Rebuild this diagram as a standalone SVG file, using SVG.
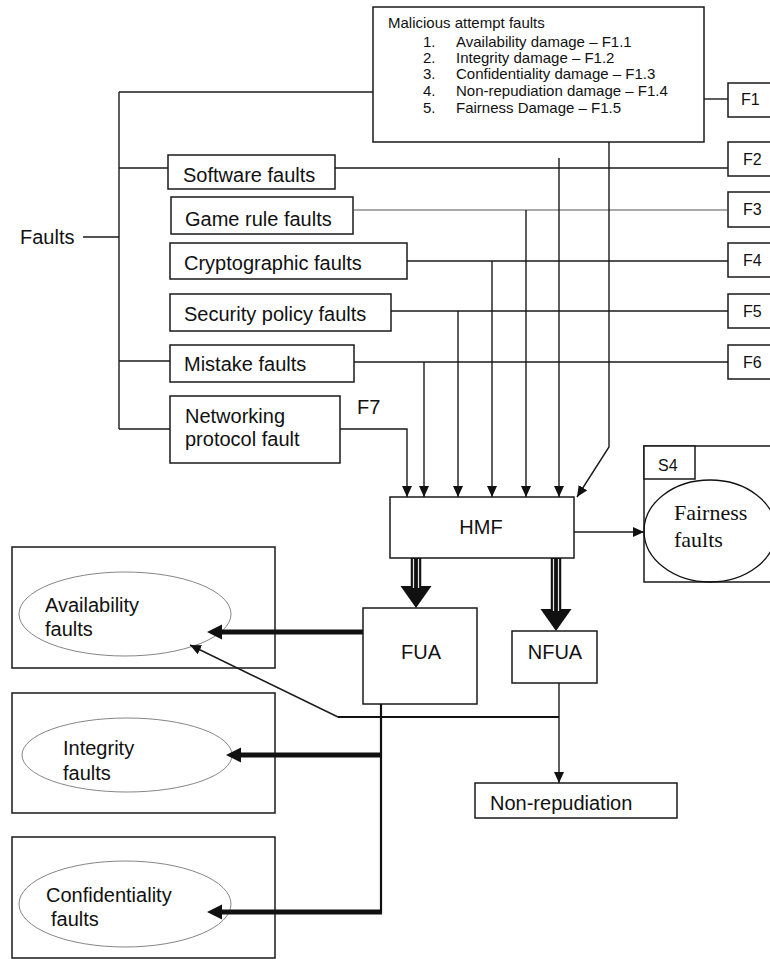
<svg xmlns="http://www.w3.org/2000/svg" width="770" height="959" viewBox="0 0 770 959">
<defs>
<style>
.box{fill:#fff;stroke:#1a1a1a;stroke-width:1.5}
.t{font-family:"Liberation Sans",Arial,sans-serif;font-size:20px;fill:#111}
.s{font-family:"Liberation Sans",Arial,sans-serif;font-size:15px;fill:#111}
.f{font-family:"Liberation Sans",Arial,sans-serif;font-size:16px;fill:#111}
.serif{font-family:"Liberation Serif","Times New Roman",serif;font-size:22px;fill:#111}
.ln{fill:none;stroke:#1a1a1a;stroke-width:1.4}
.thin{fill:none;stroke:#555;stroke-width:1}
.mid{fill:none;stroke:#111;stroke-width:2.2}
.thick{fill:none;stroke:#111;stroke-width:5}
.tri{fill:none;stroke:#111;stroke-width:10.5}
.gap{fill:none;stroke:#e8e8e8;stroke-width:1.2}
.oval{fill:none;stroke:#666;stroke-width:0.8}
.oval2{fill:none;stroke:#111;stroke-width:1.3}
.arrow{marker-end:url(#arr)}
</style>
<marker id="arr" markerUnits="userSpaceOnUse" markerWidth="11" markerHeight="10" refX="11" refY="5" orient="auto"><path d="M0,0 L11,5 L0,10 z" fill="#111"/></marker>
<marker id="thk" markerUnits="userSpaceOnUse" markerWidth="16" markerHeight="16" refX="0" refY="7.5" orient="auto" overflow="visible"><path d="M0,0 L15,7.5 L0,15 z" fill="#111"/></marker>
<marker id="big" markerUnits="userSpaceOnUse" markerWidth="24" markerHeight="32" refX="0" refY="15.5" orient="auto" overflow="visible"><path d="M0,0 L22,15.5 L0,31 z" fill="#111"/></marker>
</defs>
<rect width="770" height="959" fill="#fff"/>

<g id="faults-label"><text class="t" x="20" y="244">Faults</text></g>

<g id="malicious">
  <rect class="box" x="373" y="7" width="331" height="135"/>
  <text class="s" x="388" y="28">Malicious attempt faults</text>
  <text class="s" x="423" y="47">1.</text><text class="s" x="456" y="47">Availability damage – F1.1</text>
  <text class="s" x="423" y="63">2.</text><text class="s" x="456" y="63">Integrity damage – F1.2</text>
  <text class="s" x="423" y="79">3.</text><text class="s" x="456" y="79">Confidentiality damage – F1.3</text>
  <text class="s" x="423" y="96">4.</text><text class="s" x="456" y="96">Non-repudiation damage – F1.4</text>
  <text class="s" x="423" y="113">5.</text><text class="s" x="456" y="113">Fairness Damage – F1.5</text>
</g>

<g id="F1"><rect class="box" x="728" y="83" width="60" height="34"/><text class="f" x="741" y="105">F1</text></g>
<g id="F2"><rect class="box" x="728" y="142" width="60" height="34"/><text class="f" x="743" y="165">F2</text></g>
<g id="F3"><rect class="box" x="728" y="192" width="60" height="35"/><text class="f" x="743" y="215">F3</text></g>
<g id="F4"><rect class="box" x="728" y="243" width="60" height="34"/><text class="f" x="743" y="266">F4</text></g>
<g id="F5"><rect class="box" x="728" y="294" width="60" height="34"/><text class="f" x="743" y="317">F5</text></g>
<g id="F6"><rect class="box" x="728" y="345" width="60" height="34"/><text class="f" x="743" y="368">F6</text></g>

<g id="software"><rect class="box" x="168" y="155" width="167" height="34"/><text class="t" x="183" y="182">Software faults</text></g>
<g id="gamerule"><rect class="box" x="171" y="197" width="182" height="37"/><text class="t" x="185" y="226">Game rule faults</text></g>
<g id="crypto"><rect class="box" x="170" y="243" width="237" height="36"/><text class="t" x="184" y="270">Cryptographic faults</text></g>
<g id="security"><rect class="box" x="170" y="294" width="221" height="37"/><text class="t" x="184" y="321">Security policy faults</text></g>
<g id="mistake"><rect class="box" x="170" y="345" width="184" height="37"/><text class="t" x="184" y="371">Mistake faults</text></g>
<g id="networking">
  <rect class="box" x="170" y="396" width="170" height="67"/>
  <text class="t" x="185" y="423">Networking</text>
  <text class="t" x="185" y="446">protocol fault</text>
</g>
<g id="F7"><text class="t" x="357" y="414">F7</text></g>

<g id="HMF"><rect class="box" x="390" y="497" width="184" height="61"/><text class="t" x="481" y="534" text-anchor="middle">HMF</text></g>

<g id="S4">
  <rect class="box" x="644" y="446" width="146" height="136"/>
  <rect class="box" x="644" y="446" width="51" height="33"/>
  <text class="f" x="658" y="471">S4</text>
  <ellipse class="oval2" cx="710" cy="531" rx="66" ry="51"/>
  <text class="serif" x="674" y="520">Fairness</text>
  <text class="serif" x="674" y="547">faults</text>
</g>

<g id="FUA"><rect class="box" x="363" y="608" width="114" height="96"/><text class="t" x="421" y="659" text-anchor="middle">FUA</text></g>
<g id="NFUA"><rect class="box" x="512" y="631" width="85" height="52"/><text class="t" x="555" y="659" text-anchor="middle">NFUA</text></g>
<g id="nonrep"><rect class="box" x="475" y="783" width="202" height="35"/><text class="t" x="490" y="810">Non-repudiation</text></g>

<g id="availability">
  <rect class="box" x="12" y="547" width="263" height="121"/>
  <ellipse class="oval" cx="125" cy="614" rx="106" ry="42"/>
  <text class="t" x="45" y="612">Availability</text>
  <text class="t" x="45" y="636">faults</text>
</g>
<g id="integrity">
  <rect class="box" x="12" y="693" width="263" height="120"/>
  <ellipse class="oval" cx="127" cy="755" rx="105" ry="37"/>
  <text class="t" x="63" y="755">Integrity</text>
  <text class="t" x="63" y="780">faults</text>
</g>
<g id="confidentiality">
  <rect class="box" x="12" y="837" width="263" height="121"/>
  <ellipse class="oval" cx="125" cy="904" rx="106" ry="43"/>
  <text class="t" x="46" y="902">Confidentiality</text>
  <text class="t" x="51" y="926">faults</text>
</g>

<g id="connectors">
  <path class="ln" d="M119,92 V429"/>
  <path class="ln" d="M119,92 H373"/>
  <path class="ln" d="M83,237 H119"/>
  <path class="ln" d="M119,168 H168"/>
  <path class="ln" d="M119,361 H170"/>
  <path class="ln" d="M119,429 H170"/>
  <path class="ln" d="M704,99 H728"/>
  <path class="ln" d="M335,168 H728"/>
  <path class="thin" d="M353,210 H728"/>
  <path class="ln" d="M407,261 H728"/>
  <path class="ln" d="M391,311 H728"/>
  <path class="ln" d="M354,362 H728"/>
  <path class="ln arrow" d="M424,362 V497"/>
  <path class="ln arrow" d="M458,311 V497"/>
  <path class="ln arrow" d="M492,261 V497"/>
  <path class="ln arrow" d="M526,210 V497"/>
  <path class="ln arrow" d="M559,158 V497"/>
  <path class="ln arrow" d="M609,142 V447 L577,497"/>
  <path class="ln arrow" d="M340,429 H407 V497"/>
  <path class="ln arrow" d="M574,532 H644"/>
  <path class="tri" d="M416,558 V586" marker-end="url(#big)"/>
  <path class="gap" d="M413.5,559 V588"/>
  <path class="gap" d="M418.5,559 V588"/>
  <path class="tri" d="M556,558 V609" marker-end="url(#big)"/>
  <path class="gap" d="M553.5,559 V611"/>
  <path class="gap" d="M558.5,559 V611"/>
  <path class="thick" d="M363,632 H222" marker-end="url(#thk)"/>
  <path class="mid" d="M381,704 V913"/>
  <path class="thick" d="M382,755 H241" marker-end="url(#thk)"/>
  <path class="thick" d="M382,912 H222" marker-end="url(#thk)"/>
  <path class="ln arrow" d="M559,683 V783"/>
  <path class="mid" d="M338,717 H559"/>
  <path class="ln arrow" d="M338,717 L190,645"/>
</g>
</svg>
